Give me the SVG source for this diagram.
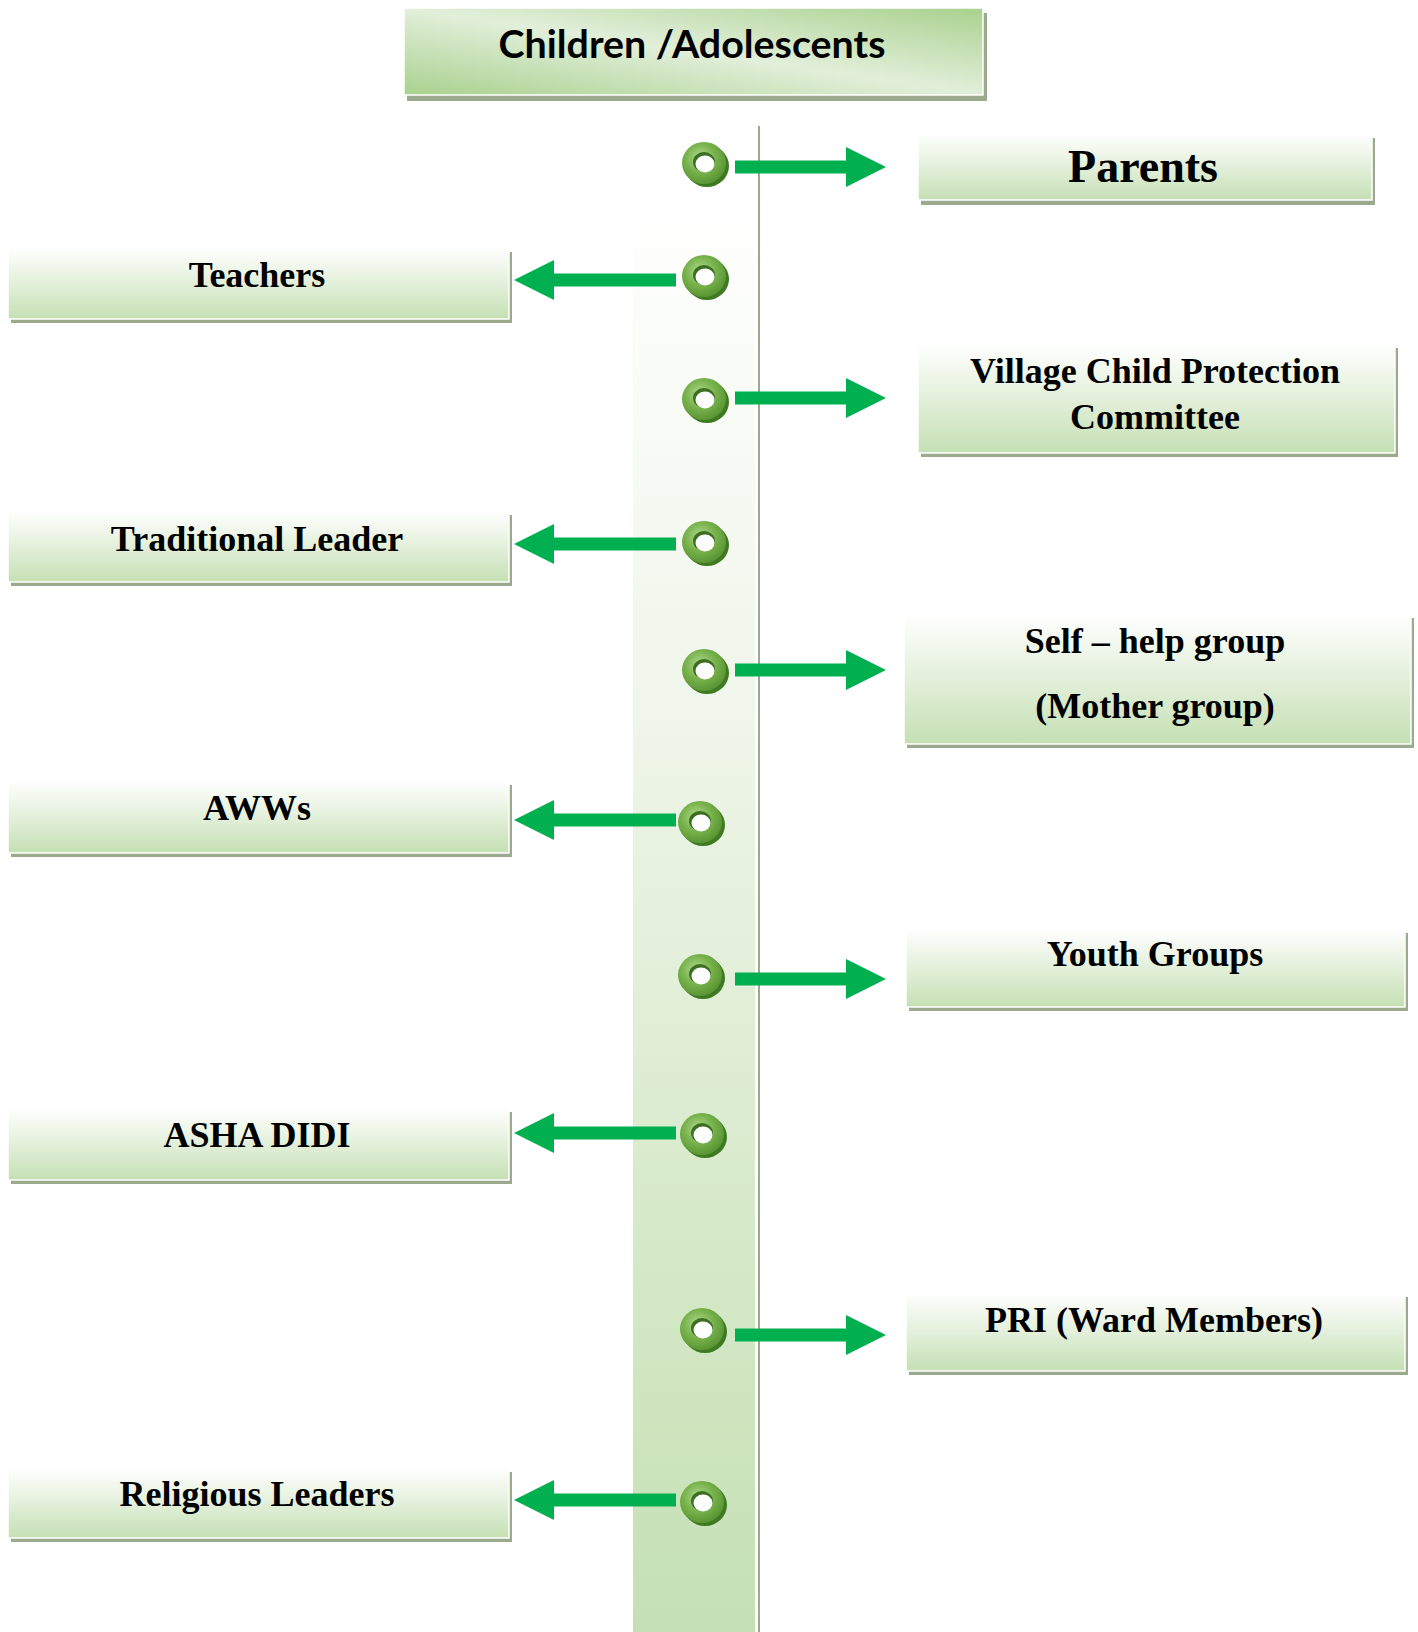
<svg xmlns="http://www.w3.org/2000/svg" width="1418" height="1632" viewBox="0 0 1418 1632">
  <defs>
    <linearGradient id="gTop" x1="0" y1="1" x2="1" y2="0">
      <stop offset="0" stop-color="#a9d18e"/>
      <stop offset="0.5" stop-color="#e2efda"/>
      <stop offset="1" stop-color="#a9d18e"/>
    </linearGradient>
    <linearGradient id="gBox" x1="0" y1="0" x2="0" y2="1">
      <stop offset="0" stop-color="#ffffff"/>
      <stop offset="0.45" stop-color="#e6f1de"/>
      <stop offset="1" stop-color="#c5e0b4"/>
    </linearGradient>
    <linearGradient id="gStripe" x1="0" y1="0" x2="0" y2="1">
      <stop offset="0" stop-color="#ffffff"/>
      <stop offset="0.35" stop-color="#f0f6eb"/>
      <stop offset="0.75" stop-color="#d4e8c6"/>
      <stop offset="1" stop-color="#c5e0b4"/>
    </linearGradient>
    <radialGradient id="gDonut" cx="0.42" cy="0.38" r="0.62">
      <stop offset="0" stop-color="#b2dc90"/>
      <stop offset="0.55" stop-color="#78b24c"/>
      <stop offset="1" stop-color="#5a9634"/>
    </radialGradient>
    <g id="donut">
      <ellipse cx="3" cy="3" rx="22" ry="21" fill="#3f7a22"/>
      <ellipse cx="0" cy="0" rx="22" ry="21" fill="url(#gDonut)"/>
      <ellipse cx="0" cy="-1" rx="11" ry="10" fill="#3d6e22"/>
      <ellipse cx="1" cy="1" rx="9.5" ry="8.5" fill="#ffffff"/>
    </g>
    <path id="arrR" d="M0,-6.5 H111 V-20 L151,0 L111,20 V6.5 H0 Z"/>
    <path id="arrL" d="M0,-6.5 H-122 V-20 L-162,0 L-122,20 V6.5 H0 Z"/>
  </defs>
  <style>
    .shadow { fill: #9ba98d; }
    .box { fill: url(#gBox); stroke: #ffffff; stroke-width: 1.5; }
    .lbl { font-family: "Liberation Serif", "Times New Roman", serif; font-weight: bold; font-size: 36px; fill: #000000; text-anchor: middle; }
    .big { font-size: 46px; }
    .arrow { fill: #00b050; }
  </style>

  <rect x="633" y="190" width="122" height="1442" fill="url(#gStripe)"/>
  <line x1="759" y1="126" x2="759" y2="1632" stroke="#9aaa8c" stroke-width="2"/>

  <g id="node-children">
    <rect class="shadow" x="407" y="13" width="580" height="88"/>
    <rect x="404" y="8" width="579" height="87" fill="url(#gTop)" stroke="#ffffff" stroke-width="1.5"/>
    <text x="692" y="58" font-family="Lato, 'Open Sans', sans-serif" font-weight="bold" font-size="39" text-anchor="middle" textLength="387" lengthAdjust="spacingAndGlyphs" fill="#000000">Children /Adolescents</text>
  </g>

  <g id="connectors">
    <use href="#arrR" class="arrow" x="735" y="167"/>
    <use href="#arrL" class="arrow" x="676" y="280"/>
    <use href="#arrR" class="arrow" x="735" y="398"/>
    <use href="#arrL" class="arrow" x="676" y="544"/>
    <use href="#arrR" class="arrow" x="735" y="670"/>
    <use href="#arrL" class="arrow" x="676" y="820"/>
    <use href="#arrR" class="arrow" x="735" y="979"/>
    <use href="#arrL" class="arrow" x="676" y="1133"/>
    <use href="#arrR" class="arrow" x="735" y="1335"/>
    <use href="#arrL" class="arrow" x="676" y="1500"/>
  </g>

  <g id="donuts">
    <use href="#donut" x="704" y="163"/>
    <use href="#donut" x="704" y="276"/>
    <use href="#donut" x="704" y="399"/>
    <use href="#donut" x="704" y="542"/>
    <use href="#donut" x="704" y="670"/>
    <use href="#donut" x="700" y="822"/>
    <use href="#donut" x="700" y="975"/>
    <use href="#donut" x="702" y="1134"/>
    <use href="#donut" x="702" y="1329"/>
    <use href="#donut" x="702" y="1502"/>
  </g>

  <g id="node-parents">
    <rect class="shadow" x="921" y="138" width="454" height="67"/>
    <rect class="box" x="918" y="134" width="454" height="66"/>
    <text class="lbl big" x="1143" y="182">Parents</text>
  </g>

  <g id="node-teachers">
    <rect class="shadow" x="11" y="252" width="501" height="71"/>
    <rect class="box" x="8" y="248" width="501" height="71"/>
    <text class="lbl" x="257" y="287">Teachers</text>
  </g>

  <g id="node-vcpc">
    <rect class="shadow" x="921" y="348" width="477" height="109"/>
    <rect class="box" x="918" y="344" width="477" height="109"/>
    <text class="lbl" x="1155" y="383">Village Child Protection</text>
    <text class="lbl" x="1155" y="429">Committee</text>
  </g>

  <g id="node-traditional">
    <rect class="shadow" x="11" y="515" width="501" height="71"/>
    <rect class="box" x="8" y="511" width="501" height="71"/>
    <text class="lbl" x="257" y="551">Traditional Leader</text>
  </g>

  <g id="node-shg">
    <rect class="shadow" x="907" y="618" width="507" height="130"/>
    <rect class="box" x="904" y="614" width="507" height="130"/>
    <text class="lbl" x="1155" y="653">Self – help group</text>
    <text class="lbl" x="1155" y="718">(Mother group)</text>
  </g>

  <g id="node-awws">
    <rect class="shadow" x="11" y="785" width="501" height="72"/>
    <rect class="box" x="8" y="781" width="501" height="72"/>
    <text class="lbl" x="257" y="820">AWWs</text>
  </g>

  <g id="node-youth">
    <rect class="shadow" x="909" y="933" width="499" height="78"/>
    <rect class="box" x="906" y="929" width="499" height="78"/>
    <text class="lbl" x="1155" y="966">Youth Groups</text>
  </g>

  <g id="node-asha">
    <rect class="shadow" x="11" y="1112" width="501" height="72"/>
    <rect class="box" x="8" y="1108" width="501" height="72"/>
    <text class="lbl" x="257" y="1147">ASHA DIDI</text>
  </g>

  <g id="node-pri">
    <rect class="shadow" x="909" y="1297" width="499" height="78"/>
    <rect class="box" x="906" y="1293" width="499" height="78"/>
    <text class="lbl" x="1154" y="1332">PRI (Ward Members)</text>
  </g>

  <g id="node-religious">
    <rect class="shadow" x="11" y="1472" width="501" height="70"/>
    <rect class="box" x="8" y="1468" width="501" height="70"/>
    <text class="lbl" x="257" y="1506">Religious Leaders</text>
  </g>
</svg>
